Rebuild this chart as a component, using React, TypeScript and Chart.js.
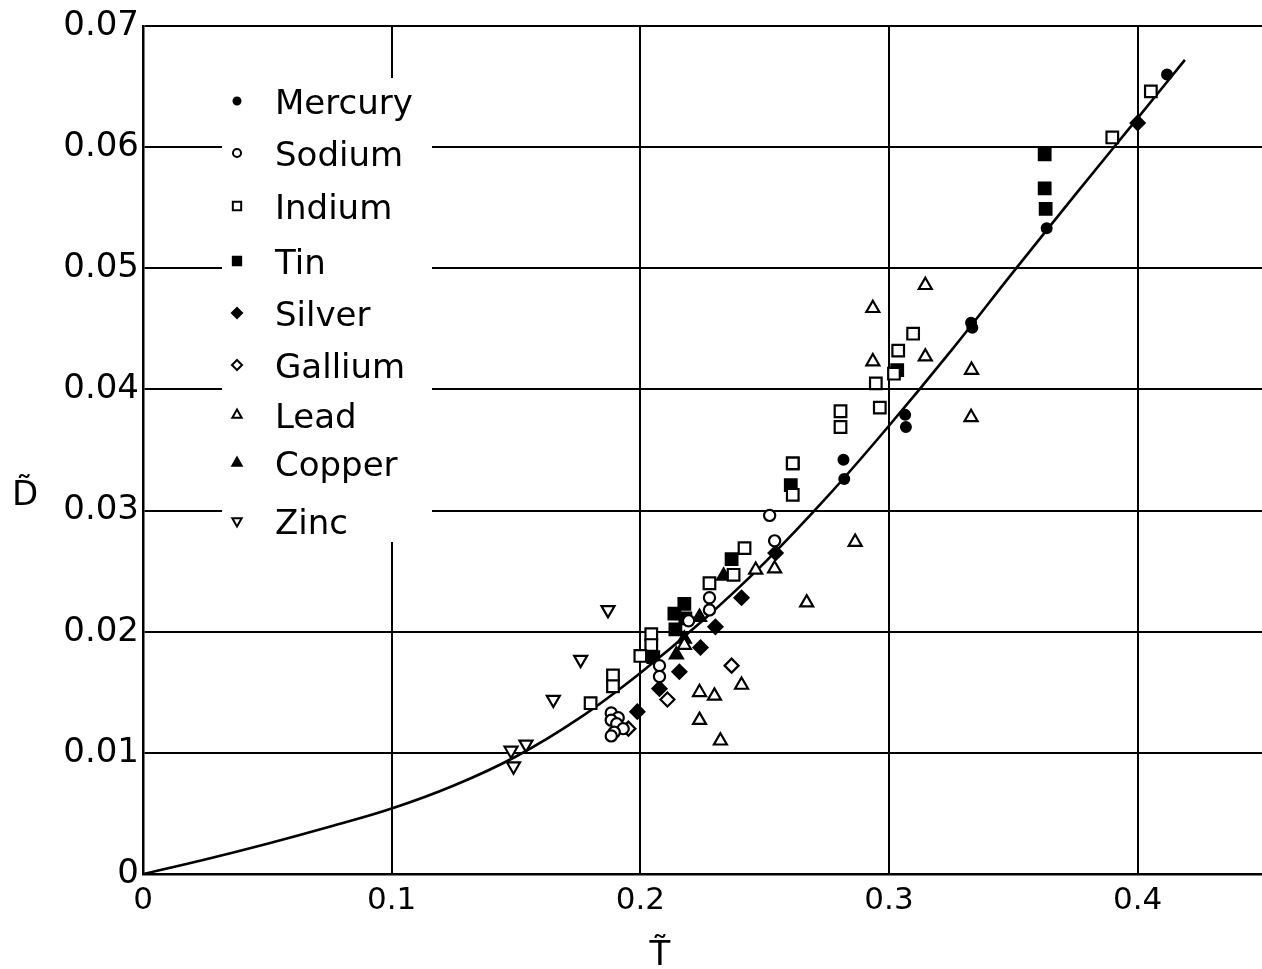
import React, { useEffect, useRef } from "react";
import { Chart, registerables } from "chart.js";
import { drawPoint } from "chart.js/helpers";

Chart.register(...registerables);

// ---- Data (T~ , D~) ----
const mercuryT = [0.2817, 0.2820, 0.3065, 0.3068, 0.3330, 0.3335, 0.3634, 0.4118];
const mercuryD = [0.0342, 0.0326, 0.0379, 0.0369, 0.0455, 0.0451, 0.0533, 0.0660];

const sodiumT = [0.2077, 0.2077, 0.1883, 0.1911, 0.1883, 0.1905, 0.1931, 0.1895, 0.1883, 0.2194, 0.2278, 0.2278, 0.2520, 0.2540];
const sodiumD = [0.0172, 0.0163, 0.0133, 0.0129, 0.0127, 0.0124, 0.0120, 0.0117, 0.0114, 0.0209, 0.0228, 0.0218, 0.0296, 0.0275];

const indiumT = [0.2044, 0.2044, 0.2000, 0.1890, 0.1890, 0.1800, 0.2278, 0.2375, 0.2419, 0.2613, 0.2613, 0.2805, 0.2805, 0.2947, 0.2963, 0.3037, 0.3097, 0.3020, 0.3898, 0.4053];
const indiumD = [0.0198, 0.0189, 0.0180, 0.0164, 0.0155, 0.0141, 0.0240, 0.0247, 0.0269, 0.0313, 0.0339, 0.0382, 0.0369, 0.0405, 0.0385, 0.0432, 0.0446, 0.0413, 0.0608, 0.0646];

const tinT = [0.2052, 0.2141, 0.2137, 0.2177, 0.2181, 0.2367, 0.2613, 0.2605, 0.3033, 0.3626, 0.3626, 0.3630];
const tinD = [0.0179, 0.0202, 0.0215, 0.0223, 0.0211, 0.0260, 0.0339, 0.0321, 0.0416, 0.0594, 0.0566, 0.0549];

const silverT = [0.1988, 0.2077, 0.2157, 0.2242, 0.2302, 0.2407, 0.2544, 0.4000];
const silverD = [0.0134, 0.0153, 0.0167, 0.0187, 0.0204, 0.0228, 0.0265, 0.0620];

const galliumT = [0.1952, 0.2109, 0.2367];
const galliumD = [0.0120, 0.0144, 0.0172];

const leadT = [0.2177, 0.2238, 0.2238, 0.2298, 0.2322, 0.2407, 0.2464, 0.2540, 0.2669, 0.2864, 0.2935, 0.2935, 0.3146, 0.3146, 0.3332, 0.3330];
const leadD = [0.0189, 0.0150, 0.0127, 0.0147, 0.0110, 0.0156, 0.0251, 0.0252, 0.0224, 0.0274, 0.0467, 0.0423, 0.0486, 0.0427, 0.0416, 0.0377];

const copperT = [0.2145, 0.2177, 0.2238, 0.2335];
const copperD = [0.0181, 0.0194, 0.0212, 0.0246];

const zincT = [0.1480, 0.1540, 0.1490, 0.1650, 0.1760, 0.1870];
const zincD = [0.0102, 0.0107, 0.0089, 0.0144, 0.0177, 0.0218];

// fitted curve
const curveT = [0, 0.025, 0.05, 0.075, 0.1, 0.125, 0.15, 0.175, 0.2, 0.225, 0.25, 0.275, 0.3, 0.325, 0.35, 0.375, 0.4, 0.419];
const curveD = [0, 0.0012, 0.0025, 0.0039, 0.0054, 0.0073, 0.0097, 0.0128, 0.0166, 0.0209, 0.0257, 0.0311, 0.0370, 0.0432, 0.0497, 0.0561, 0.0624, 0.0672];

const xTicks = [0, 0.1, 0.2, 0.3, 0.4];
const yTicks = [0, 0.01, 0.02, 0.03, 0.04, 0.05, 0.06, 0.07];

const zip = (xs: number[], ys: number[]) => xs.map((x, i) => ({ x, y: ys[i] }));

type MarkerStyle = { pointStyle: string; filled: boolean; radius: number; rotation?: number };

const series: { label: string; t: number[]; d: number[]; style: MarkerStyle }[] = [
  { label: "Mercury", t: mercuryT, d: mercuryD, style: { pointStyle: "circle", filled: true, radius: 4.9 } },
  { label: "Sodium", t: sodiumT, d: sodiumD, style: { pointStyle: "circle", filled: false, radius: 5.6 } },
  { label: "Indium", t: indiumT, d: indiumD, style: { pointStyle: "rect", filled: false, radius: 8.2 } },
  { label: "Tin", t: tinT, d: tinD, style: { pointStyle: "rect", filled: true, radius: 8.2 } },
  { label: "Silver", t: silverT, d: silverD, style: { pointStyle: "rectRot", filled: true, radius: 7.0 } },
  { label: "Gallium", t: galliumT, d: galliumD, style: { pointStyle: "rectRot", filled: false, radius: 7.0 } },
  { label: "Lead", t: leadT, d: leadD, style: { pointStyle: "triangle", filled: false, radius: 7.5 } },
  { label: "Copper", t: copperT, d: copperD, style: { pointStyle: "triangle", filled: true, radius: 7.5 } },
  { label: "Zinc", t: zincT, d: zincD, style: { pointStyle: "triangle", filled: false, radius: 7.5, rotation: 180 } },
];

const FONT = "'DejaVu Sans', sans-serif";
const W = 1262;
const H = 969;

const legendPlugin = {
  id: "insideLegend",
  afterDatasetsDraw(chart: any) {
    const ctx: CanvasRenderingContext2D = chart.ctx;
    const rowY = [101, 153, 206, 261, 313, 365, 415, 463, 521];
    const markerX = 237;
    const textX = 275;
    ctx.save();
    ctx.fillStyle = "#ffffff";
    ctx.fillRect(222, 78, 210, 464);
    ctx.font = `34px ${FONT}`;
    ctx.textBaseline = "alphabetic";
    ctx.textAlign = "left";
    series.forEach((s, i) => {
      const y = rowY[i];
      ctx.fillStyle = s.style.filled ? "#000" : "#fff";
      ctx.strokeStyle = "#000";
      ctx.lineWidth = 2;
      drawPoint(ctx, {
        pointStyle: s.style.pointStyle as any,
        radius: s.style.radius * 0.72,
        rotation: s.style.rotation || 0,
        borderWidth: 2,
      } as any, markerX, y);
      ctx.fillStyle = "#000";
      ctx.fillText(s.label, textX, y + 12.5);
    });
    ctx.restore();
  },
  afterDraw(chart: any) {
    const ctx: CanvasRenderingContext2D = chart.ctx;
    ctx.save();
    ctx.fillStyle = "#000";
    ctx.textAlign = "center";
    ctx.textBaseline = "alphabetic";
    ctx.font = `34px ${FONT}`;
    ctx.fillText("D\u0303", 25, 505);
    ctx.fillText("T\u0303", 660, 965);
    ctx.restore();
  },
};

const zeroPad = (scale: any) => {
  scale.paddingLeft = 0;
  scale.paddingRight = 0;
  scale.paddingTop = 0;
  scale.paddingBottom = 0;
};

export default function App() {
  const ref = useRef<HTMLCanvasElement>(null);
  useEffect(() => {
    if (!ref.current) return;
    const datasets: any[] = series.map((s) => ({
      type: "scatter",
      label: s.label,
      data: zip(s.t, s.d),
      pointStyle: s.style.pointStyle,
      pointRadius: s.style.radius,
      pointRotation: s.style.rotation || 0,
      pointBackgroundColor: s.style.filled ? "#000" : "#fff",
      pointBorderColor: "#000",
      pointBorderWidth: 2.2,
      order: 1,
    }));
    datasets.push({
      type: "line",
      label: "curve",
      data: zip(curveT, curveD),
      borderColor: "#000",
      borderWidth: 2.6,
      pointRadius: 0,
      fill: false,
      tension: 0.4,
      order: 10,
    });
    const chart = new Chart(ref.current, {
      type: "scatter",
      data: { datasets },
      options: {
        animation: false,
        responsive: false,
        devicePixelRatio: 1,
        layout: { autoPadding: false, padding: { top: 26, right: 0, left: 0, bottom: 0 } },
        plugins: { legend: { display: false }, tooltip: { enabled: false } },
        scales: {
          x: {
            type: "linear",
            min: 0,
            max: 0.45,
            afterBuildTicks: (scale: any) => {
              scale.ticks = xTicks.map((v) => ({ value: v }));
            },
            afterFit: (scale: any) => {
              scale.height = 95;
              zeroPad(scale);
            },
            ticks: {
              color: "#000",
              font: { family: FONT, size: 31 },
              padding: 8,
              maxRotation: 0,
              callback: (v: any) => (v === 0 ? "0" : Number(v).toFixed(1)),
            },
            grid: { color: "#000", lineWidth: 2, drawTicks: false },
            border: { display: true, color: "#000", width: 2.5 },
          },
          y: {
            type: "linear",
            min: 0,
            max: 0.07,
            afterBuildTicks: (scale: any) => {
              scale.ticks = yTicks.map((v) => ({ value: v }));
            },
            afterFit: (scale: any) => {
              scale.width = 143;
              zeroPad(scale);
            },
            ticks: {
              color: "#000",
              font: { family: FONT, size: 34 },
              padding: 4,
              callback: (v: any) => (v === 0 ? "0" : Number(v).toFixed(2)),
            },
            grid: { color: "#000", lineWidth: 2, drawTicks: false },
            border: { display: true, color: "#000", width: 2.5 },
          },
        },
      } as any,
      plugins: [legendPlugin],
    } as any);
    return () => chart.destroy();
  }, []);
  return (
    <div style={{ position: "fixed", left: 0, top: 0, width: W, height: H, background: "#fff" }}>
      <canvas ref={ref} width={W} height={H} style={{ display: "block", width: W, height: H }} />
    </div>
  );
}
